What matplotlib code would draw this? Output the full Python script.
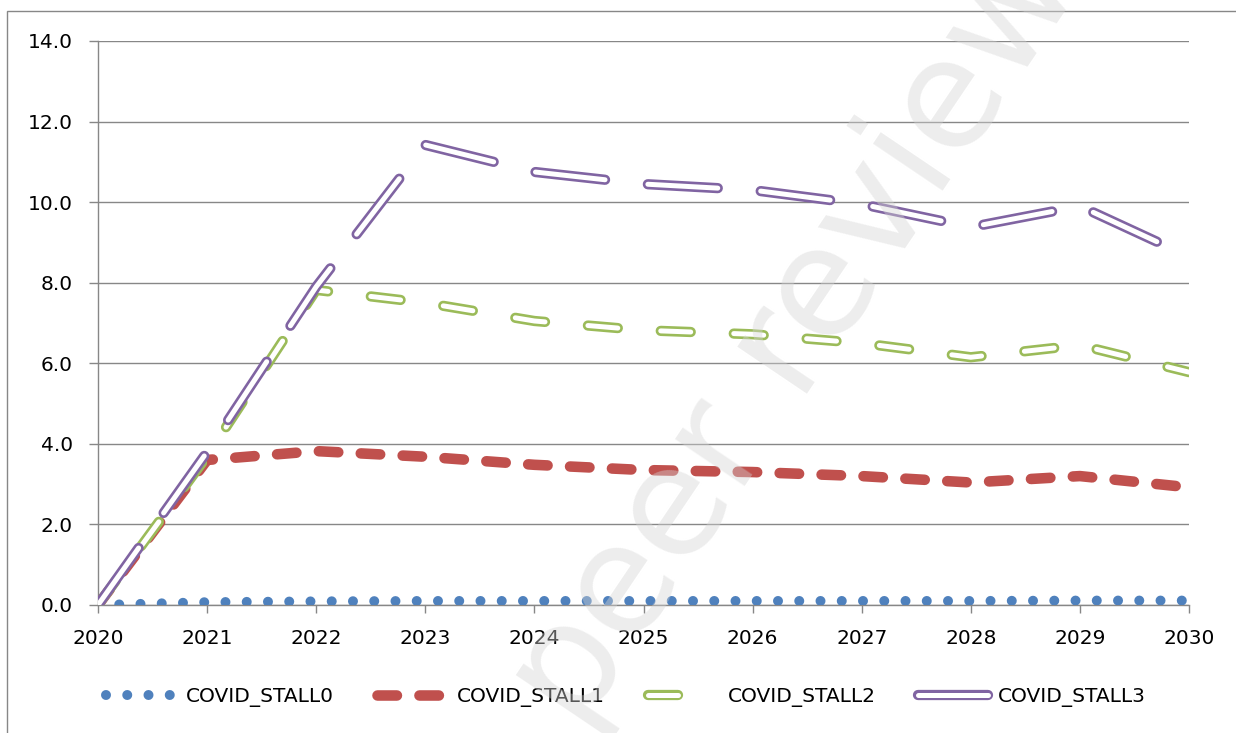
"""Line chart of COVID stall scenarios 2020-2030, Excel look (outlined dashes)."""
import matplotlib
matplotlib.use("Agg")
import matplotlib.pyplot as plt
import matplotlib.patheffects as pe
from matplotlib.patches import Rectangle

plt.rcParams["font.family"] = ["DejaVu Sans"]
plt.rcParams["lines.scale_dashes"] = False

years = [2020, 2021, 2022, 2023, 2024, 2025, 2026, 2027, 2028, 2029, 2030]
stall0 = [0.0, 0.07, 0.09, 0.10, 0.10, 0.10, 0.10, 0.10, 0.10, 0.11, 0.11]
stall1 = [0.0, 3.60, 3.82, 3.68, 3.48, 3.35, 3.30, 3.20, 3.04, 3.20, 2.92]
stall2 = [0.0, 3.70, 7.82, 7.50, 7.05, 6.82, 6.72, 6.50, 6.15, 6.45, 5.78]
stall3 = [0.0, 3.80, 7.90, 11.42, 10.75, 10.45, 10.30, 9.95, 9.38, 9.90, 8.65]
labels = ["COVID_STALL0", "COVID_STALL1", "COVID_STALL2", "COVID_STALL3"]
yticks = [0, 2, 4, 6, 8, 10, 12, 14]

BLUE, RED, GREEN, PURPLE = "#4F81BD", "#C0504D", "#9BBB59", "#8064A2"
GREY = "#878787"

W, H = 1236, 733
fig = plt.figure(figsize=(W / 100, H / 100), dpi=100)
ax = fig.add_axes([98 / W, 1 - 605 / H, 1091 / W, 564 / H])

rnd = dict(dash_capstyle="round", solid_capstyle="round")
# blue: round dots
l0, = ax.plot(years, stall0, color=BLUE, lw=7.2, dashes=(0.001, 15.3),
              label=labels[0], zorder=3, **rnd)
# red: thick rounded dashes
l1, = ax.plot(years, stall1, color=RED, lw=7.6, dashes=(14.0, 16.2),
              label=labels[1], zorder=4, **rnd)
# green / purple: hollow dashes (coloured outline, white core)
l2, = ax.plot(years, stall2, color="white", lw=3.6, dashes=(21.6, 31),
              label=labels[2], zorder=5, **rnd,
              path_effects=[pe.Stroke(linewidth=7.4, foreground=GREEN), pe.Normal()])
l3, = ax.plot(years, stall3, color="white", lw=3.6, dashes=(50.4, 31),
              label=labels[3], zorder=6, **rnd,
              path_effects=[pe.Stroke(linewidth=7.4, foreground=PURPLE), pe.Normal()])

ax.set_xlim(2020, 2030)
ax.set_ylim(0, 14)
ax.set_xticks(years)
ax.set_yticks(yticks)
ax.set_yticklabels([f"{v:.1f}" for v in yticks])
ax.yaxis.grid(True, color=GREY, lw=1.0)
ax.set_axisbelow(True)
for s in ("top", "right"):
    ax.spines[s].set_visible(False)
for s in ("left", "bottom"):
    ax.spines[s].set_color(GREY)
    ax.spines[s].set_linewidth(1.0)
ax.tick_params(axis="y", length=6.5, width=1.0, color=GREY, pad=11.5, labelsize=14.5)
ax.tick_params(axis="x", length=5.5, width=1.0, color=GREY, pad=11.5, labelsize=14.5)

fig.legend(handles=[l0, l1, l2, l3], labels=labels, loc="center",
           bbox_to_anchor=(626 / W, 1 - 697 / H), ncol=4, frameon=False,
           fontsize=14.5, handlelength=3.62, handletextpad=0.35,
           columnspacing=2.13)

# outer chart frame (only left + top edges fall inside the picture)
fig.patches.append(Rectangle((7 / W, -0.5), 1.5, 1.5 - 11 / H,
                             transform=fig.transFigure, fill=False,
                             edgecolor=GREY, lw=1.0))

# watermark
fig.text(795 / W, 1 - 336 / H, "peer review", rotation=56, rotation_mode="anchor",
         ha="center", va="center", fontsize=110,
         color="#d4d4d4", alpha=0.42, zorder=10)

fig.savefig("out.png", dpi=100)
